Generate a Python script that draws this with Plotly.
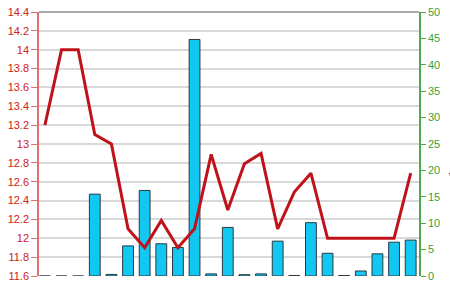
import plotly.graph_objects as go

categories = list(range(23))
bar_values = [0, 0, 0, 15.5, 0.3, 5.7, 16.2, 6.1, 5.4, 44.8, 0.4, 9.2, 0.25, 0.4,
              6.6, 0.1, 10.1, 4.3, 0.1, 0.95, 4.2, 6.4, 6.8]
line_values = [13.2, 14.0, 14.0, 13.1, 13.0, 12.1, 11.9, 12.19, 11.9, 12.1, 12.89,
               12.3, 12.79, 12.9, 12.1, 12.49, 12.69, 12.0, 12.0, 12.0, 12.0, 12.0, 12.69]
left_ticks = [11.6, 11.8, 12.0, 12.2, 12.4, 12.6, 12.8, 13.0, 13.2, 13.4, 13.6, 13.8, 14.0, 14.2, 14.4]
left_tick_labels = ["11.6", "11.8", "12", "12.2", "12.4", "12.6", "12.8", "13", "13.2",
                    "13.4", "13.6", "13.8", "14", "14.2", "14.4"]
right_ticks = [0, 5, 10, 15, 20, 25, 30, 35, 40, 45, 50]
right_tick_labels = [str(v) for v in right_ticks]

fig = go.Figure()
fig.add_trace(go.Bar(
    x=categories, y=bar_values, yaxis="y", width=0.65,
    marker=dict(color="#12c8f2", line=dict(color="#2a3a40", width=1)),
    showlegend=False, hoverinfo="skip",
))
fig.add_trace(go.Scatter(
    x=categories, y=line_values, yaxis="y2", mode="lines",
    line=dict(color="#c0121a", width=3),
    showlegend=False, hoverinfo="skip",
))

font = "Liberation Sans, Arial, sans-serif"
fig.update_layout(
    width=450, height=291,
    margin=dict(l=39, r=31, t=12, b=15, pad=0, autoexpand=False),
    paper_bgcolor="white", plot_bgcolor="white",
    xaxis=dict(range=[-0.355, 22.5], showticklabels=False, showgrid=False,
               zeroline=False, showline=False, ticks=""),
    yaxis=dict(side="right", range=[0, 50], tickvals=right_ticks, ticktext=right_tick_labels,
               showgrid=False, zeroline=False, showline=True, linecolor="#4daa4d",
               linewidth=1.5, ticks="outside", ticklen=5, tickcolor="#4daa4d",
               tickfont=dict(family=font, size=11, color="#3aa03a")),
    yaxis2=dict(overlaying="y", side="left", range=[11.6, 14.4], tickvals=left_ticks,
                ticktext=left_tick_labels, showgrid=True, gridcolor="#d9d9d9", gridwidth=1.5,
                zeroline=False, showline=True, linecolor="#e07070", linewidth=1.5,
                ticks="outside", ticklen=6, tickcolor="#e07070",
                tickfont=dict(family=font, size=11, color="#d02020")),
    bargap=0.35,
    shapes=[dict(type="line", xref="paper", yref="paper", x0=0, x1=1, y0=1, y1=1,
                 line=dict(color="#555555", width=1.2))],
    annotations=[dict(text=",", xref="paper", yref="paper", x=1.071, y=0.40,
                      xanchor="left", showarrow=False,
                      font=dict(family=font, size=11, color="#444444"))],
)

fig.write_html("out.html")
